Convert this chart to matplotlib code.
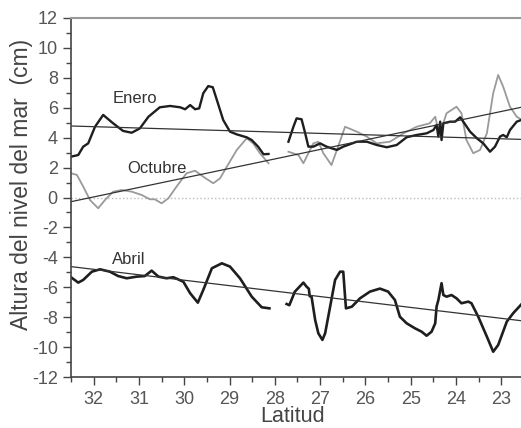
import matplotlib.pyplot as plt
import numpy as np

plt.rcParams['font.family'] = ['Liberation Sans', 'DejaVu Sans']
plt.rcParams['axes.unicode_minus'] = False

# Enero (two segments, gap near 28 - 27.7)
enero_lat1 = [32.5, 32.34, 32.23, 32.12, 31.97, 31.79, 31.57, 31.35, 31.16, 30.98, 30.79, 30.54,
              30.31, 30.09, 29.98, 29.87, 29.76, 29.67, 29.58, 29.47, 29.37, 29.28, 29.14, 28.99,
              28.84, 28.62, 28.51, 28.37, 28.25, 28.14]
enero_val1 = [2.73, 2.84, 3.4, 3.62, 4.73, 5.52, 4.96, 4.45, 4.33, 4.62, 5.40, 6.03,
              6.12, 6.03, 5.9, 6.18, 5.9, 5.96, 6.97, 7.45, 7.37, 6.52, 5.18, 4.40,
              4.22, 4.02, 3.84, 3.40, 2.89, 2.91]
enero_lat2 = [27.70, 27.59, 27.52, 27.41, 27.33, 27.26, 27.15, 27.00, 26.86, 26.63, 26.49, 26.19,
              25.97, 25.75, 25.53, 25.31, 25.09, 24.87, 24.65, 24.50, 24.43, 24.39, 24.35, 24.32,
              24.28, 24.13, 24.02, 23.91, 23.84, 23.69, 23.54, 23.40, 23.25, 23.14, 23.03, 22.96,
              22.88, 22.81, 22.66, 22.5]
enero_val2 = [3.73, 4.73, 5.29, 5.23, 4.29, 3.40, 3.40, 3.62, 3.40, 3.18, 3.40, 3.73,
              3.73, 3.51, 3.36, 3.51, 4.03, 4.18, 4.29, 4.51, 4.85, 4.07, 5.07, 3.84,
              4.96, 5.07, 5.07, 5.36, 5.07, 4.40, 3.96, 3.62, 3.06, 3.40, 4.07, 4.18,
              4.03, 4.51, 5.07, 5.25]

# Octubre
octubre_lat1 = [32.5, 32.37, 32.23, 32.08, 31.90, 31.75, 31.57, 31.38, 31.16, 30.94, 30.76, 30.65,
                30.50, 30.35, 30.17, 29.95, 29.76, 29.58, 29.36, 29.21, 29.06, 28.84, 28.62, 28.48,
                28.33, 28.14]
octubre_val1 = [1.62, 1.51, 0.73, -0.17, -0.72, -0.17, 0.39, 0.50, 0.39, 0.17, -0.12, -0.12,
                -0.39, -0.05, 0.73, 1.62, 1.79, 1.39, 0.95, 1.28, 2.06, 3.18, 3.96, 3.62,
                2.96, 2.29]
octubre_lat2 = [27.70, 27.48, 27.37, 27.15, 27.04, 26.93, 26.75, 26.63, 26.45, 26.19, 25.97, 25.75,
                25.46, 25.16, 24.87, 24.58, 24.46, 24.39, 24.32, 24.21, 23.99, 23.88, 23.77, 23.62,
                23.47, 23.32, 23.18, 23.07, 22.96, 22.81, 22.66, 22.5]
octubre_val2 = [3.06, 2.84, 2.29, 3.62, 3.73, 2.96, 2.17, 3.18, 4.73, 4.40, 4.07, 3.62,
                3.73, 4.29, 4.73, 4.96, 5.40, 4.51, 4.62, 5.63, 6.07, 5.63, 3.84, 2.96,
                3.18, 4.29, 6.97, 8.19, 7.41, 6.07, 5.40, 5.10]

# Abril
abril_lat1 = [32.5, 32.34, 32.23, 32.04, 31.86, 31.64, 31.46, 31.27, 31.05, 30.87, 30.72, 30.57,
              30.39, 30.24, 30.02, 29.87, 29.70, 29.58, 29.39, 29.17, 28.99, 28.77, 28.51, 28.29,
              28.12]
abril_val1 = [-5.33, -5.69, -5.51, -4.96, -4.80, -4.96, -5.25, -5.40, -5.29, -5.25, -4.89, -5.29,
              -5.40, -5.33, -5.63, -6.40, -7.03, -6.18, -4.73, -4.40, -4.62, -5.40, -6.63, -7.34,
              -7.41]
abril_lat2 = [27.74, 27.68, 27.56, 27.37, 27.30, 27.25, 27.23, 27.19, 27.11, 27.04, 26.95, 26.89,
              26.78, 26.67, 26.56, 26.49, 26.45, 26.43, 26.30, 26.12, 25.90, 25.68, 25.50, 25.35,
              25.24, 25.09, 24.91, 24.76, 24.65, 24.54, 24.46, 24.43, 24.39, 24.32, 24.28, 24.21,
              24.10, 23.99, 23.88, 23.73, 23.66, 23.51, 23.32, 23.18, 23.07, 22.88, 22.74, 22.5]
abril_val2 = [-7.12, -7.2, -6.30, -5.69, -5.96, -6.1, -6.6, -6.63, -8.19, -9.08, -9.52, -9.08,
              -7.30, -5.51, -4.96, -4.96, -6.63, -7.41, -7.30, -6.74, -6.29, -6.09, -6.29, -6.85,
              -7.97, -8.41, -8.74, -8.97, -9.24, -8.97, -8.41, -7.30, -6.85, -5.73, -6.52, -6.63,
              -6.52, -6.74, -7.07, -6.96, -7.07, -7.97, -9.30, -10.31, -9.86, -8.30, -7.74, -6.95]

# linear trends (value at 32.5 and at 22.5)
trend_lat = [32.5, 22.5]
enero_trend = [4.78, 3.88]
octubre_trend = [-0.28, 6.07]
abril_trend = [-4.62, -8.26]

fig = plt.figure(figsize=(5.21, 4.28), dpi=100)
ax = fig.add_axes([71 / 521, 1 - 377 / 428, 453 / 521, 359 / 428])

ax.axhline(0, color='#bbbbbb', lw=1.0, ls=':')

dark = '#1e1e1e'
grey = '#9a9a9a'
ax.plot(octubre_lat1, octubre_val1, color=grey, lw=1.3)
ax.plot(octubre_lat2, octubre_val2, color=grey, lw=1.3)
ax.plot(enero_lat1, enero_val1, color=dark, lw=1.7)
ax.plot(enero_lat2, enero_val2, color=dark, lw=1.7)
ax.plot(abril_lat1, abril_val1, color=dark, lw=1.9)
ax.plot(abril_lat2, abril_val2, color=dark, lw=1.9)

for tr in (enero_trend, octubre_trend, abril_trend):
    ax.plot(trend_lat, tr, color='#333333', lw=0.9)

lab_kw = dict(fontsize=12, color='#333333', ha='center', va='center')
ax.text(31.09, 6.6, 'Enero', **lab_kw)
ax.text(30.61, 1.95, 'Octubre', **lab_kw)
ax.text(31.23, -4.13, 'Abril', **lab_kw)

ax.set_xlim(32.5, 22.5)
ax.set_ylim(-12, 12)
ax.set_xticks(np.arange(23, 33, 1))
ax.set_xticks(np.arange(22.5, 33, 0.5), minor=True)
ax.set_yticks(np.arange(-12, 13, 2))
ax.set_yticks(np.arange(-12, 13, 1), minor=True)

ax.tick_params(which='major', direction='out', length=6, width=1.0, color='#444444',
               labelsize=13, labelcolor='#555555')
ax.tick_params(which='minor', direction='out', length=3.5, width=1.0, color='#444444')
ax.tick_params(axis='x', pad=4)

for side in ('left', 'bottom'):
    ax.spines[side].set_color('#444444')
    ax.spines[side].set_linewidth(1.2)
ax.spines['top'].set_color('#999999')
ax.spines['top'].set_linewidth(1.5)
ax.spines['right'].set_visible(False)

ax.set_xlabel('Latitud', fontsize=15.5, color='#444444')
ax.xaxis.set_label_coords(0.49, -0.082)
ax.set_ylabel('Altura del nivel del mar  (cm)', fontsize=16.5, color='#444444')
ax.yaxis.set_label_coords(-0.084, 0.535)

fig.savefig('out.png', dpi=100)
